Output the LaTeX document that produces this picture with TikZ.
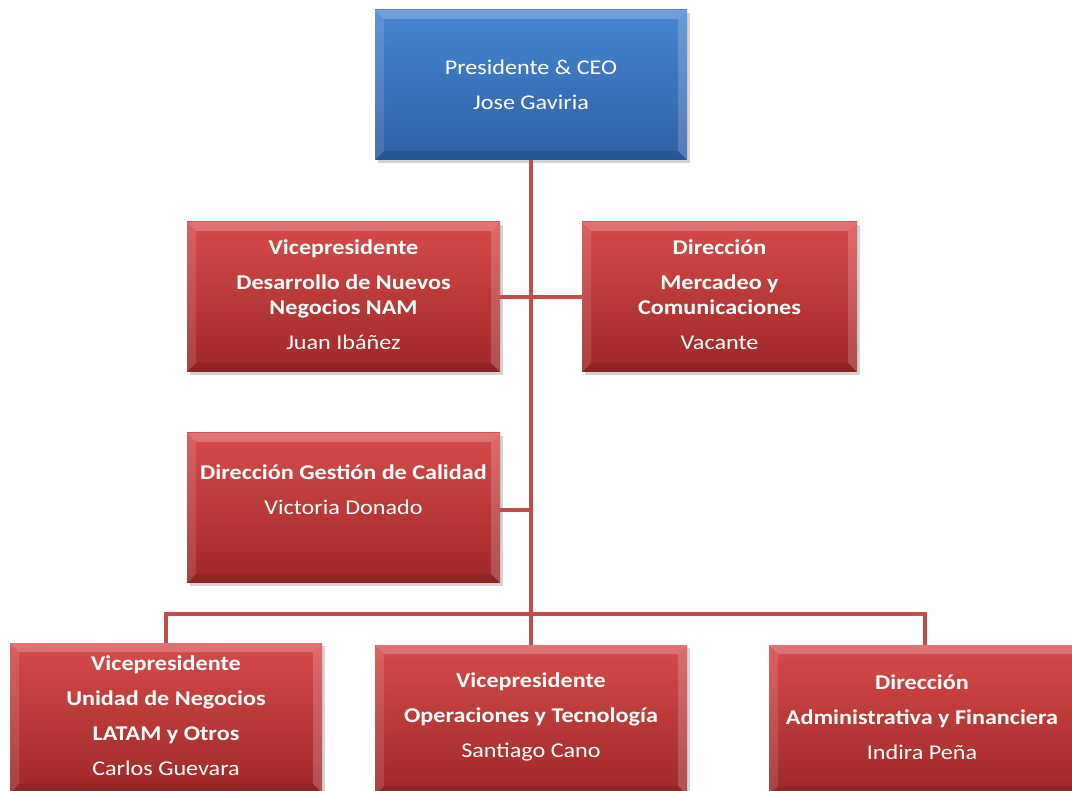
\documentclass[tikz,border=0pt]{standalone}
\usepackage{fontspec}
\setmainfont{Carlito}[FakeStretch=1.15]
\usetikzlibrary{shadows}
\definecolor{redtop}{RGB}{214,76,74}
\definecolor{redbot}{RGB}{158,40,38}
\definecolor{bluetop}{RGB}{72,134,210}
\definecolor{bluebot}{RGB}{44,96,166}
\definecolor{conncol}{RGB}{194,78,76}
\tikzset{
  orgbox/.style={rectangle, minimum width=312pt, minimum height=150pt, inner sep=0pt,
    draw=none, drop shadow={shadow xshift=3pt, shadow yshift=-3pt, opacity=0.35},
    path picture={
      \fill[white,opacity=0.22] (path picture bounding box.north west) -- (path picture bounding box.north east)
        -- ([xshift=-9pt,yshift=-9pt]path picture bounding box.north east) -- ([xshift=9pt,yshift=-9pt]path picture bounding box.north west) -- cycle;
      \fill[white,opacity=0.12] (path picture bounding box.north west) -- (path picture bounding box.south west)
        -- ([xshift=9pt,yshift=9pt]path picture bounding box.south west) -- ([xshift=9pt,yshift=-9pt]path picture bounding box.north west) -- cycle;
      \fill[black,opacity=0.10] (path picture bounding box.south west) -- (path picture bounding box.south east)
        -- ([xshift=-9pt,yshift=9pt]path picture bounding box.south east) -- ([xshift=9pt,yshift=9pt]path picture bounding box.south west) -- cycle;
      \fill[white,opacity=0.18] (path picture bounding box.north east) -- (path picture bounding box.south east)
        -- ([xshift=-9pt,yshift=9pt]path picture bounding box.south east) -- ([xshift=-9pt,yshift=-9pt]path picture bounding box.north east) -- cycle;
    }},
  redbox/.style={orgbox, top color=redtop, bottom color=redbot},
  bluebox/.style={orgbox, top color=bluetop, bottom color=bluebot},
  boxtext/.style={text=white, align=center, inner sep=0pt, font=\fontsize{21}{25}\selectfont},
  conn/.style={draw=conncol, line width=4.5pt},
}
\begin{document}
\begin{tikzpicture}[x=1pt,y=-1pt]
\useasboundingbox (0,0) rectangle (1072,791);
\clip (0,0) rectangle (1072,791);
\coordinate (bus) at (531,614);
\node[bluebox] (ceo) at (531,85) {};
\node[redbox, minimum width=313pt] (nam) at (343.5,297) {};
\node[redbox, minimum width=275pt] (merc) at (719.5,297) {};
\node[redbox, minimum width=313pt] (cal) at (343.5,508) {};
\node[redbox] (bl) at (166,718) {};
\node[redbox] (mid) at (531,720) {};
\node[redbox] (br) at (925,720) {};
\draw[conn] (ceo.south) -- (mid.north);
\draw[conn] (nam.east) -- (merc.west);
\draw[conn] ([yshift=-2pt]cal.east) -- ([yshift=-2pt]cal.east -| ceo.south);
\draw[conn] (bl.north) |- (bus) -| (br.north);
% texts
\node[boxtext] (t-ceo) at (531,85) {Presidente \& CEO\\[10pt]Jose Gaviria};
\node[boxtext] (t-nam) at (343.5,295) {\bfseries Vicepresidente\\[10pt]\bfseries Desarrollo de Nuevos\\\bfseries Negocios NAM\\[10pt]Juan Ibáñez};
\node[boxtext] (t-merc) at (719.5,295) {\bfseries Dirección\\[10pt]\bfseries Mercadeo y\\\bfseries Comunicaciones\\[10pt]Vacante};
\node[boxtext] (t-cal) at (343.5,490) {\bfseries Dirección Gestión de Calidad\\[10pt]Victoria Donado};
\node[boxtext] (t-bl) at (166,716) {\bfseries Vicepresidente\\[10pt]\bfseries Unidad de Negocios\\[10pt]\bfseries LATAM y Otros\\[10pt]Carlos Guevara};
\node[boxtext] (t-mid) at (531,717) {\bfseries Vicepresidente\\[10pt]\bfseries Operaciones y Tecnología\\[10pt]Santiago Cano};
\node[boxtext] (t-br) at (922,717) {\bfseries Dirección\\[10pt]\bfseries Administrativa y Financiera\\[10pt]Indira Peña};
\end{tikzpicture}
\end{document}
